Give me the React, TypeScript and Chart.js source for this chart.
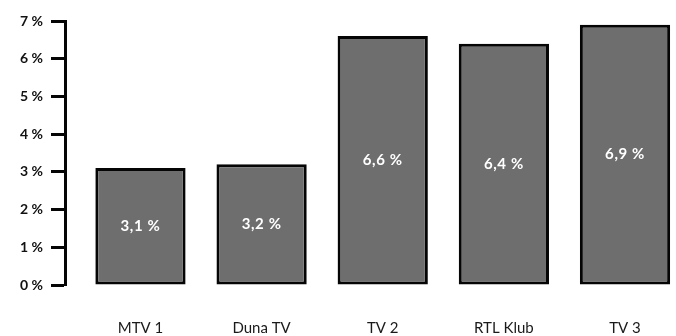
import React, { useEffect, useRef } from "react";
import { Chart, registerables } from "chart.js";

Chart.register(...registerables);

const categories = ["MTV 1", "Duna TV", "TV 2", "RTL Klub", "TV 3"];
const values = [3.1, 3.2, 6.6, 6.4, 6.9];
const yTicks = [0, 1, 2, 3, 4, 5, 6, 7];

const fmt = (v: number) => v.toFixed(1).replace(".", ",") + " %";

const valueLabels = {
  id: "valueLabels",
  afterDatasetsDraw(chart: any) {
    const ctx = chart.ctx;
    const meta = chart.getDatasetMeta(0);
    ctx.save();
    ctx.fillStyle = "#ffffff";
    ctx.font = "bold 15px Lato, 'Noto Sans', sans-serif";
    ctx.textAlign = "center";
    ctx.textBaseline = "middle";
    try {
      (ctx as any).letterSpacing = "0.6px";
    } catch (e) {}
    meta.data.forEach((bar: any, i: number) => {
      const p = bar.getProps(["x", "y", "base"], true);
      ctx.fillText(fmt(values[i]), p.x, (p.y + p.base) / 2);
    });
    ctx.restore();
  },
};

export default function App() {
  const ref = useRef<HTMLCanvasElement>(null);
  useEffect(() => {
    if (!ref.current) return;
    const chart = new Chart(ref.current, {
      type: "bar",
      data: {
        datasets: [
          {
            data: values.map((v, i) => ({ x: i, y: v })),
            backgroundColor: "#6e6e6e",
            borderColor: "#050505",
            borderWidth: 3,
            borderSkipped: false,
            categoryPercentage: 1,
            barPercentage: 0.745,
          },
        ],
      },
      options: {
        animation: false,
        responsive: true,
        maintainAspectRatio: false,
        layout: { padding: { top: 21, right: 0, bottom: 0, left: 0 } },
        plugins: { legend: { display: false }, tooltip: { enabled: false } },
        scales: {
          x: {
            type: "linear",
            offset: false,
            min: -0.623,
            max: 4.421,
            grid: { display: false, drawTicks: false },
            border: { display: false },
            afterFit: (s: any) => {
              s.height = 51;
            },
            afterBuildTicks: (s: any) => {
              s.ticks = categories.map((_, i) => ({ value: i }));
            },
            ticks: {
              padding: 34,
              color: "#1a1a1a",
              font: { family: "Lato, 'Noto Sans', sans-serif", size: 15 },
              callback: (v: any) => categories[Math.round(Number(v))] ?? "",
              maxRotation: 0,
              autoSkip: false,
            },
          },
          y: {
            min: 0,
            max: 7,
            afterFit: (s: any) => {
              s.width = 65;
            },
            afterBuildTicks: (s: any) => {
              s.ticks = yTicks.map((v) => ({ value: v }));
            },
            grid: {
              drawOnChartArea: false,
              drawTicks: true,
              tickLength: 14,
              tickWidth: 3,
              tickColor: "#050505",
            },
            border: { display: true, width: 3, color: "#050505" },
            ticks: {
              padding: 8,
              color: "#111111",
              font: { family: "Lato, 'Noto Sans', sans-serif", size: 14, weight: "bold" },
              callback: (v: any) => `${v} %`,
            },
          },
        },
      },
      plugins: [valueLabels],
    } as any);
    return () => chart.destroy();
  }, []);
  return (
    <div style={{ position: "fixed", left: 0, top: 0, width: 676, height: 336, background: "#fff" }}>
      <canvas ref={ref} />
    </div>
  );
}
